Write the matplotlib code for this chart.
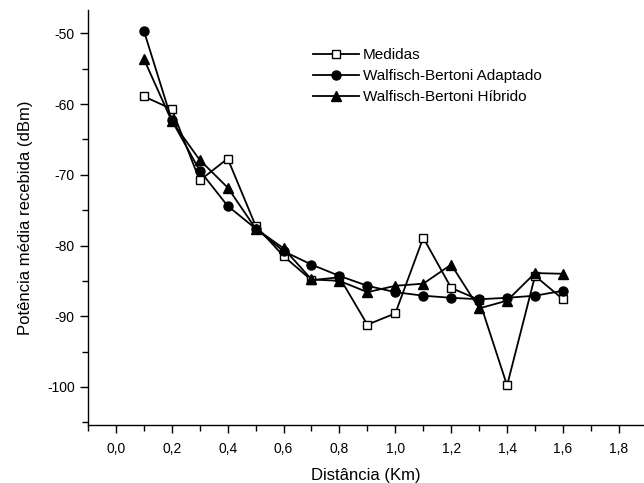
import matplotlib
matplotlib.use("Agg")
import matplotlib.pyplot as plt
from matplotlib.ticker import MultipleLocator, FuncFormatter

plt.rcParams['font.family'] = ['Liberation Sans', 'DejaVu Sans']

distancia = [0.1, 0.2, 0.3, 0.4, 0.5, 0.6, 0.7, 0.8, 0.9, 1.0, 1.1, 1.2, 1.3, 1.4, 1.5, 1.6]
medidas = [-58.9, -60.7, -70.8, -67.7, -77.2, -81.5, -84.9, -84.5, -91.2, -89.6,
           -78.9, -86.0, -87.7, -99.8, -84.3, -87.6]
adaptado = [-49.6, -62.3, -69.4, -74.4, -77.6, -80.8, -82.7, -84.3, -85.7, -86.6,
            -87.1, -87.4, -87.6, -87.4, -87.1, -86.4]
hibrido = [-53.6, -62.4, -67.9, -71.8, -77.6, -80.4, -84.8, -85.0, -86.6, -85.7,
           -85.4, -82.7, -88.9, -87.8, -83.9, -84.0]

fig = plt.figure(figsize=(6.44, 4.83), dpi=100)
ax = fig.add_axes([0.1366, 0.12, 0.8634, 0.859])

ax.plot(distancia, medidas, color='black', lw=1.3, marker='s', ms=6,
        mfc='white', mec='black', mew=1.0, label='Medidas')
ax.plot(distancia, adaptado, color='black', lw=1.3, marker='o', ms=6.5,
        mfc='black', mec='black', label='Walfisch-Bertoni Adaptado')
ax.plot(distancia, hibrido, color='black', lw=1.3, marker='^', ms=7.5,
        mfc='black', mec='black', label='Walfisch-Bertoni Híbrido')

ax.set_xlim(-0.1, 1.89)
ax.set_ylim(-105.4, -46.7)
ax.xaxis.set_major_locator(MultipleLocator(0.2))
ax.xaxis.set_minor_locator(MultipleLocator(0.1))
ax.yaxis.set_major_locator(MultipleLocator(10))
ax.yaxis.set_minor_locator(MultipleLocator(5))
ax.xaxis.set_major_formatter(FuncFormatter(lambda v, p: f"{v:.1f}".replace('.', ',')))
ax.yaxis.set_major_formatter(FuncFormatter(lambda v, p: f"{v:.0f}"))

for s in ['top', 'right']:
    ax.spines[s].set_visible(False)
for s in ['left', 'bottom']:
    ax.spines[s].set_linewidth(1.0)
ax.tick_params(which='major', direction='out', length=6, width=1.0, labelsize=10)
ax.tick_params(axis='x', which='major', pad=6)
ax.tick_params(which='minor', direction='out', length=4, width=1.0)

ax.set_xlabel('Distância (Km)', fontsize=12, labelpad=9)
ax.set_ylabel('Potência média recebida (dBm)', fontsize=12, labelpad=10)

ax.legend(loc='upper left', bbox_to_anchor=(0.474, 0.916), bbox_transform=fig.transFigure,
          frameon=False, fontsize=11, handlelength=3.0, handletextpad=0.25,
          labelspacing=0.45, borderpad=0)

fig.savefig('out.png', dpi=100)
